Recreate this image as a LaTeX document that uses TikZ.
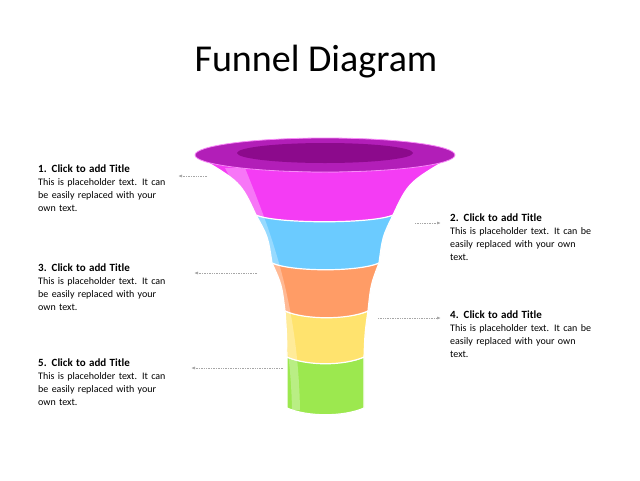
\documentclass[tikz,border=0pt]{standalone}
\usepackage{fontspec}
\setmainfont{Carlito}
\usetikzlibrary{arrows.meta}
\definecolor{cmag}{HTML}{F43CF4}
\definecolor{crim}{HTML}{B21EB8}
\definecolor{cin}{HTML}{8C0A8C}
\definecolor{cblue}{HTML}{6BCBFF}
\definecolor{corange}{HTML}{FF9C66}
\definecolor{cyellow}{HTML}{FFE36E}
\definecolor{cgreen}{HTML}{9CE84F}
\tikzset{
 band/.style={draw=white,line width=1.2pt},
 lbl/.style={anchor=north west,align=left,font=\fontsize{10}{13}\selectfont,text width=165pt,inner sep=0pt},
 conn/.style={draw=gray!70,densely dotted,line width=0.7pt,-{Latex[length=4pt,width=3pt]}}
}
\begin{document}
\begin{tikzpicture}[x=1pt,y=-1pt]
\useasboundingbox (0,0) rectangle (640,480);
\fill[white] (0,0) rectangle (640,480);
\node (title) at (316,62) {\fontsize{38}{42}\selectfont Funnel Diagram};
% bands: xl_top, xl_bot, y_top, y_bot, xr_bot, xr_top, ctrl dx, sag, colour
\newcommand{\bandfill}[9]{%
 \fill[#9,band] (#1,#3) .. controls ({#1+0.75*(#2-#1)},{#3+0.45*(#4-#3)}) .. (#2,#4)
  .. controls ({#2+20},{#4+9}) and ({#5-20},{#4+9}) .. (#5,#4)
  .. controls ({#6-0.75*(#6-#5)},{#3+0.45*(#4-#3)}) .. (#6,#3)
  .. controls ({#6-#7},{#3+#8}) and ({#1+#7},{#3+#8}) .. (#1,#3) -- cycle;}
\bandfill{287}{287}{357}{408}{364}{364}{18}{8}{cgreen}
\bandfill{285}{287}{311}{357}{364}{368}{18}{8}{cyellow}
\bandfill{272}{285}{263}{311}{368}{379}{22}{8}{corange}
\bandfill{256}{272}{215}{263}{379}{393}{26}{8}{cblue}
\bandfill{195}{256}{155}{215}{393}{455}{40}{22}{cmag}
% highlight
\fill[white,opacity=0.3] (225,168) .. controls (258,230) and (290,300) .. (292,410) -- (300,410) .. controls (298,300) and (270,230) .. (245,168) -- cycle;
% top rim
\fill[crim,draw=cmag!60,line width=0.8pt] (325,155) ellipse [x radius=130,y radius=17];
\fill[cin] (325,153) ellipse [x radius=88,y radius=10];
% anchors
\coordinate (f1) at (207,176);
\coordinate (f2) at (415,223);
\coordinate (f3) at (257,273);
\coordinate (f4) at (378,318);
\coordinate (f5) at (283,368);
\coordinate (t1) at (178,176);
\coordinate (t2) at (441,223);
\coordinate (t3) at (194,273);
\coordinate (t4) at (441,318);
\coordinate (t5) at (191,368);
\draw[conn] (f1) -- (t1);
\draw[conn] (f2) -- (t2);
\draw[conn] (f3) -- (t3);
\draw[conn] (f4) -- (t4);
\draw[conn] (f5) -- (t5);
\node[lbl] (l1) at (38,165) {\textbf{\fontsize{11}{13}\selectfont 1. Click to add Title}\\This is placeholder text. It can\\be easily replaced with your\\own text.};
\node[lbl] (l3) at (38,264) {\textbf{\fontsize{11}{13}\selectfont 3. Click to add Title}\\This is placeholder text. It can\\be easily replaced with your\\own text.};
\node[lbl] (l5) at (38,359) {\textbf{\fontsize{11}{13}\selectfont 5. Click to add Title}\\This is placeholder text. It can\\be easily replaced with your\\own text.};
\node[lbl] (l2) at (450,214) {\textbf{\fontsize{11}{13}\selectfont 2. Click to add Title}\\This is placeholder text. It can be\\easily replaced with your own\\text.};
\node[lbl] (l4) at (450,311) {\textbf{\fontsize{11}{13}\selectfont 4. Click to add Title}\\This is placeholder text. It can be\\easily replaced with your own\\text.};
\end{tikzpicture}
\end{document}
